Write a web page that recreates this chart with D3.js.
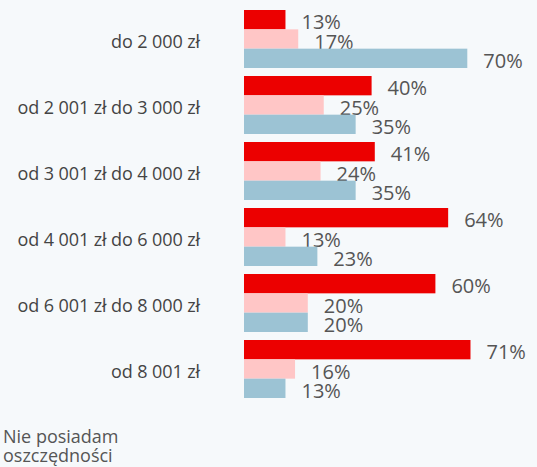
<!DOCTYPE html>
<html>
<head>
<meta charset="utf-8">
<script src="https://cdn.jsdelivr.net/npm/d3@7"></script>
<style>
    html, body { margin: 0; padding: 0; background: #f6f9fb; }
    svg { display: block; font-family: "Open Sans", sans-serif; }
</style>
</head>
<body>
<svg id="chart" width="537" height="467"></svg>
<script>
// data
const categories = ["do 2 000 zł", "od 2 001 zł do 3 000 zł", "od 3 001 zł do 4 000 zł",
    "od 4 001 zł do 6 000 zł", "od 6 001 zł do 8 000 zł", "od 8 001 zł"];
const seriesKeys = ["red", "pink", "blue"];
const redValues = [13, 40, 41, 64, 60, 71];
const pinkValues = [17, 25, 24, 13, 20, 16];
const blueValues = [70, 35, 35, 23, 20, 13];
const legendLines = ["Nie posiadam", "oszczędności"];

const colors = {red: "#ec0000", pink: "#ffc6c6", blue: "#9cc3d4"};
const seriesValues = {red: redValues, pink: pinkValues, blue: blueValues};

const svg = d3.select("#chart");

let yScale = d3.scaleBand()
    .domain(categories)
    .range([6, 402])
    .paddingInner(8 / 66)
    .paddingOuter(4 / 66);

let ySub = d3.scaleBand()
    .domain(seriesKeys)
    .range([0, yScale.bandwidth()]);

let xScale = d3.scaleLinear()
    .domain([0, 100])
    .range([244, 563]);

// category labels on the left
let yAxis = d3.axisLeft(yScale).tickSize(0).tickPadding(0);
let axisG = svg.append("g")
    .attr("transform", "translate(200,3)")
    .call(yAxis);
axisG.select(".domain").remove();
axisG.selectAll("text")
    .attr("font-family", "Open Sans, sans-serif")
    .attr("font-size", 18)
    .attr("letter-spacing", "-0.1px")
    .attr("fill", "#444");

// one pass per series, so later bars lie over earlier labels
seriesKeys.forEach(function (key) {
    let vals = seriesValues[key];
    let g = svg.append("g");
    g.selectAll("rect")
        .data(vals)
        .enter().append("rect")
        .attr("x", xScale(0))
        .attr("y", (d, i) => yScale(categories[i]) + ySub(key))
        .attr("width", d => xScale(d) - xScale(0))
        .attr("height", ySub.bandwidth())
        .attr("fill", colors[key]);
    g.selectAll("text")
        .data(vals)
        .enter().append("text")
        .attr("x", d => xScale(d) + 16)
        .attr("y", (d, i) => yScale(categories[i]) + ySub(key) + ySub.bandwidth() / 2 + 2)
        .attr("dominant-baseline", "central")
        .attr("font-size", 20)
        .attr("fill", "#555")
        .text(d => d + "%");
});

// legend text, cut off at the bottom
svg.append("text")
    .attr("x", 3)
    .attr("y", 443)
    .attr("font-size", 18)
    .attr("fill", "#555")
    .selectAll("tspan")
    .data(legendLines)
    .enter().append("tspan")
    .attr("x", 3)
    .attr("dy", (d, i) => i === 0 ? 0 : 18.5)
    .text(d => d);
</script>
</body>
</html>
